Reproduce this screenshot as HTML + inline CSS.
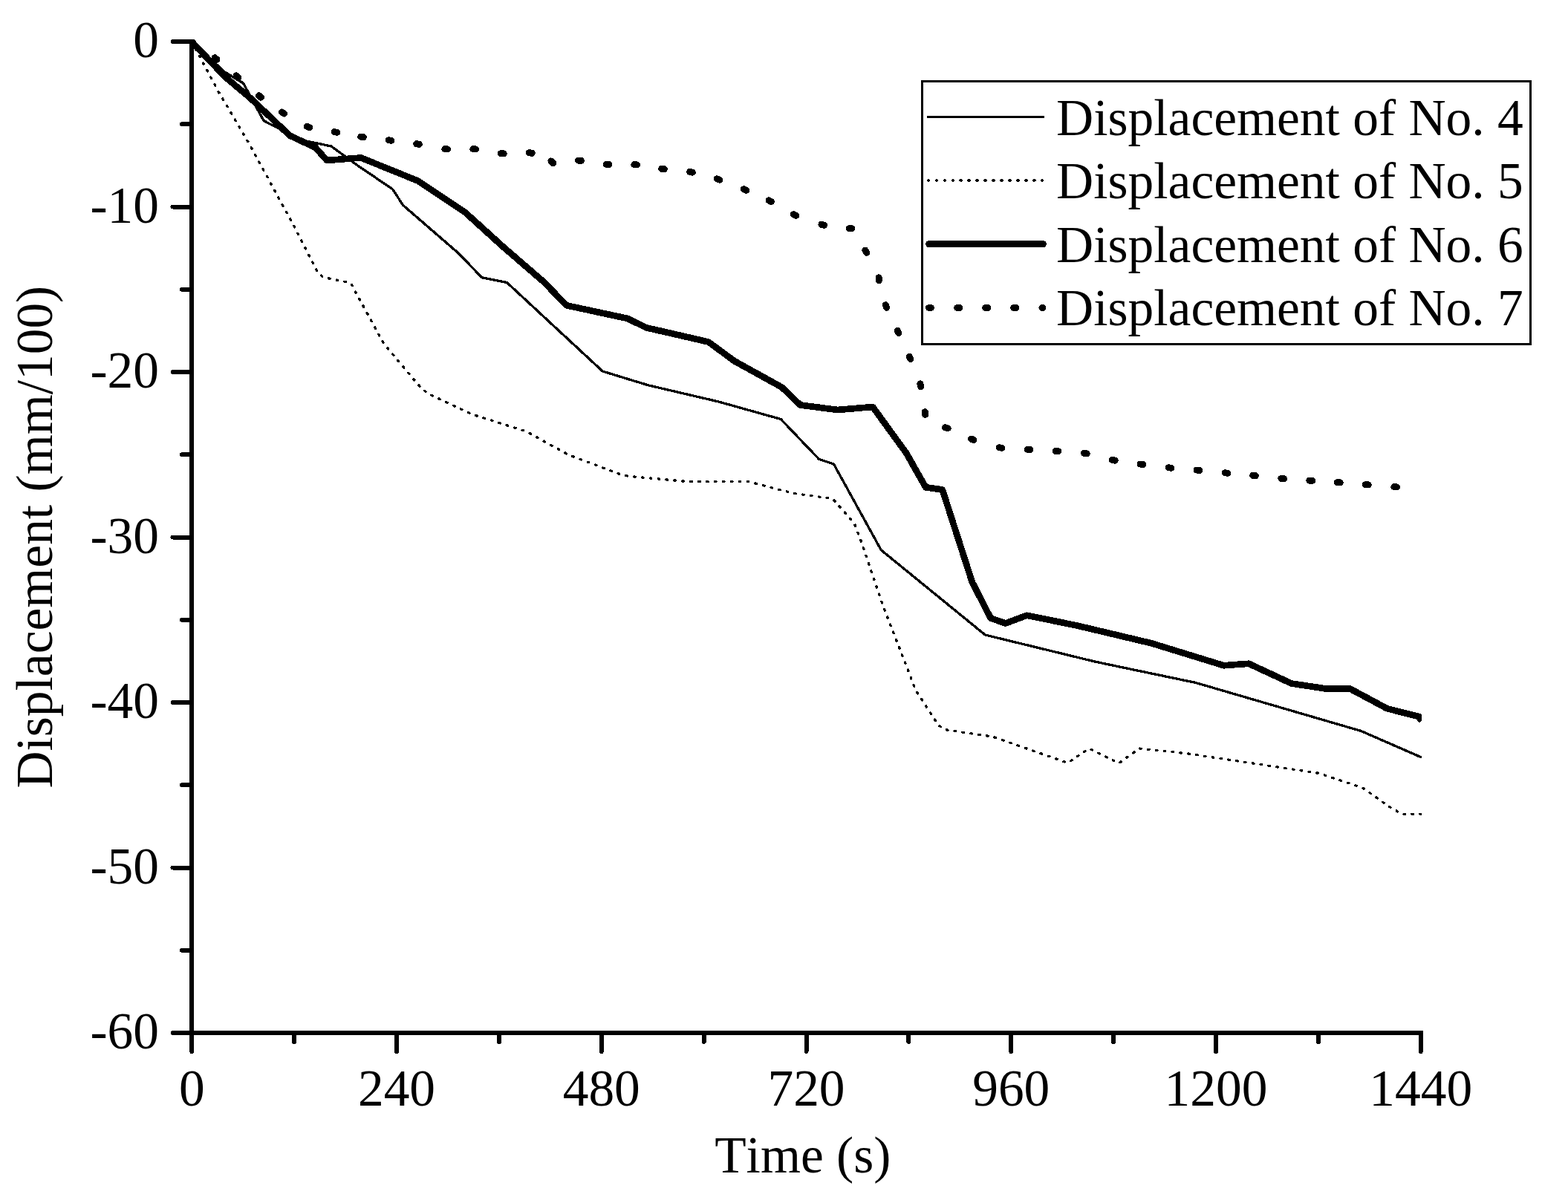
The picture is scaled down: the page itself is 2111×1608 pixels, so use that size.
<!DOCTYPE html>
<html lang="en"><head><meta charset="utf-8"><title>Displacement vs Time</title>
<style>
html,body{margin:0;padding:0;background:#fff;}
body{width:2111px;height:1608px;overflow:hidden;}
svg{display:block;}
text{font-kerning:none;font-family:"Liberation Serif","Times New Roman",serif;font-size:69.44px;fill:#000;}
</style></head><body>
<svg width="2111" height="1608" viewBox="0 0 2111 1608" shape-rendering="crispEdges">
<rect width="2111" height="1608" fill="#fff"/>
<defs><clipPath id="pc"><rect x="255" y="40" width="1659" height="1360"/></clipPath></defs>

<g fill="none" stroke="#000" clip-path="url(#pc)" stroke-linejoin="round">
<polyline points="258,56 302.5,97 327.5,112 355,162.5 381,176 412.5,190 446,197 481,222.5 528.75,255 542.5,276.25 617.5,341.25 648.75,373.75 682.5,380.5 811.25,500 872.5,518.75 967.5,541 1051.25,564.5 1102.5,618.25 1122.5,625 1186.25,740.75 1326.25,855 1475,891.25 1610,919.5 1832.5,984.5 1913.75,1020" stroke-width="3.3"/>
<polyline points="258,56 295,125 334,191 397.5,307.5 428.5,368.5 436,373.5 472,381 516.5,462.5 566.5,522.2 577,530.5 635,557.75 708.4,581 765.4,612.5 837.5,639.75 848.4,641.6 925,648.5 1008,648.7 1068,664.3 1121,671.7 1150,704.5 1157.5,723.75 1178.75,786.25 1189.4,817.5 1233.1,930 1263,976.25 1271.5,982.5 1336.6,992.1 1437.5,1027.5 1466.25,1008 1506.25,1028 1533.75,1008 1600,1015 1750,1037.5 1775,1041.25 1835,1061.25 1870,1086.25 1887.5,1096.25 1912.5,1096.25" stroke-width="3.3" stroke-linecap="round" stroke-dasharray="1.7 9.23"/>
<polyline points="258,56 303,103.5 337.5,132.5 390,182.5 425,199 440,216 486,212.5 562.5,243.5 626.25,286 677.5,332.5 732.5,380 762.5,411.25 845,429 870,441.25 953.75,460.5 988.75,486.25 1052.5,521.5 1077.5,545.5 1127.5,552 1175,548 1220,610 1246.25,656.25 1268.75,659.5 1308.75,783.75 1333.75,832.5 1353.75,839.5 1382.5,828.75 1450,842.5 1550,866.25 1647.5,896.25 1681.25,893.75 1738.75,920.5 1785,927.5 1817.5,927.5 1867.5,954.25 1910,965 1914,971" stroke-width="8.7"/>
</g>
<g stroke="#000" stroke-width="9" stroke-linecap="round">
<line x1="289.14" y1="77.78" x2="292.06" y2="80.22"/>
<line x1="317.96" y1="101.76" x2="320.84" y2="104.24"/>
<line x1="348.51" y1="128.82" x2="351.49" y2="131.18"/>
<line x1="379.39" y1="150.99" x2="382.61" y2="153.01"/>
<line x1="413.22" y1="170.35" x2="416.78" y2="171.65"/>
<line x1="450.13" y1="177.65" x2="453.87" y2="178.35"/>
<line x1="485.62" y1="184.22" x2="489.38" y2="184.78"/>
<line x1="523.12" y1="188.76" x2="526.88" y2="189.24"/>
<line x1="560.62" y1="193.71" x2="564.38" y2="194.29"/>
<line x1="598.86" y1="200.58" x2="602.64" y2="200.92"/>
<line x1="636.86" y1="200.60" x2="640.64" y2="200.90"/>
<line x1="674.35" y1="206.62" x2="678.15" y2="206.88"/>
<line x1="712.38" y1="205.68" x2="716.12" y2="206.32"/>
<line x1="741.91" y1="216.91" x2="744.59" y2="219.59"/>
<line x1="778.60" y1="216.17" x2="782.40" y2="216.33"/>
<line x1="816.11" y1="221.36" x2="819.89" y2="221.64"/>
<line x1="853.86" y1="221.60" x2="857.64" y2="221.90"/>
<line x1="890.62" y1="227.25" x2="894.38" y2="227.75"/>
<line x1="928.63" y1="231.40" x2="932.37" y2="232.10"/>
<line x1="965.19" y1="240.91" x2="968.81" y2="242.09"/>
<line x1="1001.25" y1="254.77" x2="1004.75" y2="256.23"/>
<line x1="1035.06" y1="269.89" x2="1038.44" y2="271.61"/>
<line x1="1068.27" y1="288.72" x2="1071.73" y2="290.28"/>
<line x1="1105.90" y1="302.30" x2="1109.60" y2="303.20"/>
<line x1="1143.10" y1="307.75" x2="1146.90" y2="307.75"/>
<line x1="1164.80" y1="337.10" x2="1166.70" y2="340.40"/>
<line x1="1183.08" y1="373.86" x2="1183.42" y2="377.64"/>
<line x1="1192.35" y1="410.71" x2="1193.65" y2="414.29"/>
<line x1="1208.20" y1="445.03" x2="1209.80" y2="448.47"/>
<line x1="1224.20" y1="480.03" x2="1225.80" y2="483.47"/>
<line x1="1238.92" y1="516.88" x2="1239.58" y2="520.62"/>
<line x1="1245.33" y1="554.61" x2="1245.67" y2="558.39"/>
<line x1="1272.41" y1="575.76" x2="1276.09" y2="576.74"/>
<line x1="1307.46" y1="591.10" x2="1311.04" y2="592.40"/>
<line x1="1345.11" y1="602.83" x2="1348.89" y2="603.17"/>
<line x1="1383.10" y1="605.15" x2="1386.90" y2="605.35"/>
<line x1="1421.10" y1="607.62" x2="1424.90" y2="607.88"/>
<line x1="1459.37" y1="610.20" x2="1463.13" y2="610.80"/>
<line x1="1497.39" y1="619.39" x2="1501.11" y2="620.11"/>
<line x1="1535.12" y1="625.00" x2="1538.88" y2="625.50"/>
<line x1="1573.11" y1="629.80" x2="1576.89" y2="630.20"/>
<line x1="1611.11" y1="633.08" x2="1614.89" y2="633.42"/>
<line x1="1649.11" y1="636.82" x2="1652.89" y2="637.18"/>
<line x1="1686.61" y1="640.31" x2="1690.39" y2="640.69"/>
<line x1="1724.86" y1="644.33" x2="1728.64" y2="644.67"/>
<line x1="1762.85" y1="647.12" x2="1766.65" y2="647.38"/>
<line x1="1800.36" y1="649.61" x2="1804.14" y2="649.89"/>
<line x1="1838.36" y1="652.60" x2="1842.14" y2="652.90"/>
<line x1="1876.86" y1="655.60" x2="1880.64" y2="655.90"/>
</g>
<g stroke="#000" stroke-width="6" fill="none">
<line x1="258.25" y1="53" x2="258.25" y2="1391.0"/>
<line x1="255.25" y1="1391.0" x2="1915.75" y2="1391.0"/>
</g>
<g stroke="#000" stroke-width="6" stroke-linecap="round">
<line x1="232.5" y1="56.00" x2="256.25" y2="56.00"/>
<line x1="245" y1="167.25" x2="256.25" y2="167.25"/>
<line x1="232.5" y1="278.50" x2="256.25" y2="278.50"/>
<line x1="245" y1="389.75" x2="256.25" y2="389.75"/>
<line x1="232.5" y1="501.00" x2="256.25" y2="501.00"/>
<line x1="245" y1="612.25" x2="256.25" y2="612.25"/>
<line x1="232.5" y1="723.50" x2="256.25" y2="723.50"/>
<line x1="245" y1="834.75" x2="256.25" y2="834.75"/>
<line x1="232.5" y1="946.00" x2="256.25" y2="946.00"/>
<line x1="245" y1="1057.25" x2="256.25" y2="1057.25"/>
<line x1="232.5" y1="1168.50" x2="256.25" y2="1168.50"/>
<line x1="245" y1="1279.75" x2="256.25" y2="1279.75"/>
<line x1="232.5" y1="1391.00" x2="256.25" y2="1391.00"/>
<line x1="258.25" y1="1393.0" x2="258.25" y2="1416"/>
<line x1="396.12" y1="1393.0" x2="396.12" y2="1403"/>
<line x1="534.00" y1="1393.0" x2="534.00" y2="1416"/>
<line x1="671.88" y1="1393.0" x2="671.88" y2="1403"/>
<line x1="809.75" y1="1393.0" x2="809.75" y2="1416"/>
<line x1="947.62" y1="1393.0" x2="947.62" y2="1403"/>
<line x1="1085.50" y1="1393.0" x2="1085.50" y2="1416"/>
<line x1="1223.38" y1="1393.0" x2="1223.38" y2="1403"/>
<line x1="1361.25" y1="1393.0" x2="1361.25" y2="1416"/>
<line x1="1499.12" y1="1393.0" x2="1499.12" y2="1403"/>
<line x1="1637.00" y1="1393.0" x2="1637.00" y2="1416"/>
<line x1="1774.88" y1="1393.0" x2="1774.88" y2="1403"/>
<line x1="1912.75" y1="1393.0" x2="1912.75" y2="1416"/>
</g>
<g text-anchor="end">
<text x="214" y="77.30">0</text>
<text x="214" y="299.80">-10</text>
<text x="214" y="522.30">-20</text>
<text x="214" y="744.80">-30</text>
<text x="214" y="967.30">-40</text>
<text x="214" y="1189.80">-50</text>
<text x="214" y="1412.30">-60</text>
</g>
<g text-anchor="middle">
<text x="258.25" y="1488.7">0</text>
<text x="534.00" y="1488.7">240</text>
<text x="809.75" y="1488.7">480</text>
<text x="1085.50" y="1488.7">720</text>
<text x="1361.25" y="1488.7">960</text>
<text x="1637.00" y="1488.7">1200</text>
<text x="1912.75" y="1488.7">1440</text>
<text x="1080.8" y="1578.5">Time (s)</text>
<text transform="translate(69.6,723.2) rotate(-90)">Displacement (mm/100)</text>
</g>
<rect x="1241.5" y="109.5" width="818.75" height="353.75" fill="#fff" stroke="#000" stroke-width="3"/>
<g stroke="#000" fill="none">
<line x1="1248.25" y1="157.25" x2="1405.75" y2="157.25" stroke-width="3"/>
<line x1="1249.25" y1="243" x2="1405.75" y2="243" stroke-width="3.3" stroke-linecap="round" stroke-dasharray="1.7 9.23"/>
<line x1="1250.6" y1="328.6" x2="1404.4" y2="328.6" stroke-width="9" stroke-linecap="round"/>
<line x1="1250.5" y1="414.5" x2="1404" y2="414.5" stroke-width="9" stroke-linecap="round" stroke-dasharray="3 35.1"/>
</g>
<text x="1422.1" y="182">Displacement of No. 4</text>
<text x="1422.1" y="266.6">Displacement of No. 5</text>
<text x="1422.1" y="352.5">Displacement of No. 6</text>
<text x="1422.1" y="437.8">Displacement of No. 7</text>
</svg></body></html>
